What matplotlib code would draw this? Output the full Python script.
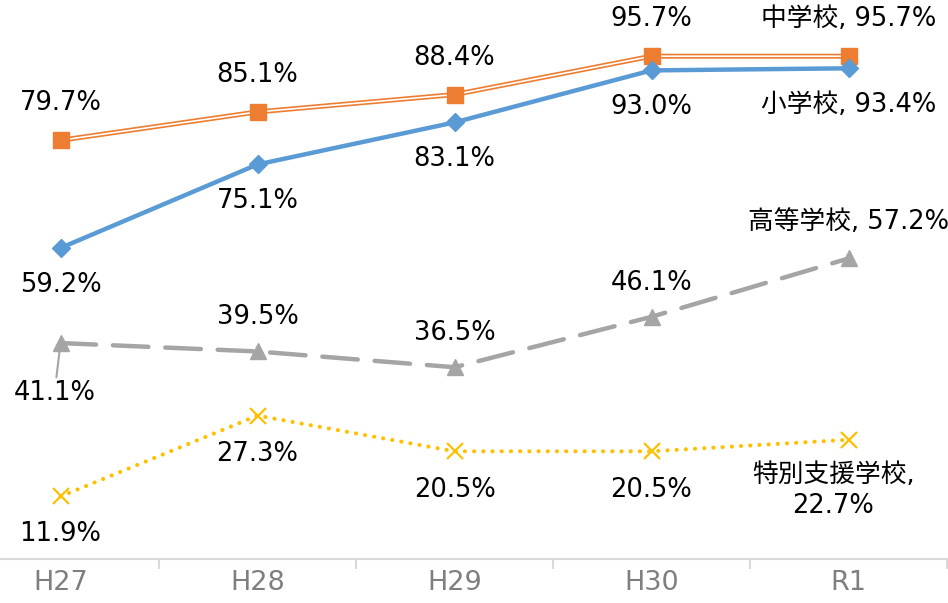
import matplotlib
matplotlib.use("Agg")
import matplotlib.pyplot as plt
import numpy as np

plt.rcParams['font.family'] = ['DejaVu Sans', 'Noto Sans CJK JP']

categories = ["H27", "H28", "H29", "H30", "R1"]
elementary = [59.2, 75.1, 83.1, 93.0, 93.4]
junior_high = [79.7, 85.1, 88.4, 95.7, 95.7]
high_school = [41.1, 39.5, 36.5, 46.1, 57.2]
special = [11.9, 27.3, 20.5, 20.5, 22.7]
names = ["小学校", "中学校", "高等学校", "特別支援学校"]

W, H = 948, 603
fig = plt.figure(figsize=(W / 100, H / 100), dpi=100)
ax_left, ax_right, ax_bottom = -38, 947, 559
ax = fig.add_axes([ax_left / W, (H - ax_bottom) / H, (ax_right - ax_left) / W, ax_bottom / H])
ax.set_xlim(-0.5, 4.5)
ax.set_ylim(0, 106.4)
ax.patch.set_alpha(0)

x = np.arange(len(categories))

blue = "#5b9bd5"
orange = "#ed7d31"
gray = "#a5a5a5"
yellow = "#ffc000"

# 中学校 (double line)
ax.plot(x, junior_high, color=orange, lw=3.6, zorder=3, solid_capstyle='butt')
ax.plot(x, junior_high, color="white", lw=1.2, zorder=3.1)
ax.plot(x, junior_high, ls='none', marker='s', ms=12, color=orange, zorder=3.2)

# 小学校
ax.plot(x, elementary, color=blue, lw=3.2, marker='D', ms=9.5, zorder=4,
        solid_joinstyle='round')

# 高等学校
ax.plot(x, high_school, color=gray, lw=3.2, dashes=(8, 3.8), dash_capstyle='round',
        marker='^', ms=12, zorder=2)

# 特別支援学校
ax.plot(x, special, color=yellow, lw=3.0, dashes=(0.01, 2.2), dash_capstyle='round',
        zorder=2)
ax.plot(x, special, ls='none', marker='x', ms=12, mew=1.6, color=yellow, zorder=2.1)

fs = 18.5
def lab(xi, yi, text, dx, dy, **kw):
    ax.annotate(text, (xi, yi), xytext=(dx, dy), textcoords='offset pixels',
                ha='center', va='center', fontsize=fs, color='black', zorder=6, **kw)

last = len(categories) - 1
for i, v in enumerate(junior_high):
    t = f"{v:.1f}%" if i < last else f"{names[1]}, {v:.1f}%"
    lab(i, v, t, 0, 37)
for i, v in enumerate(elementary):
    t = f"{v:.1f}%" if i < last else f"{names[0]}, {v:.1f}%"
    lab(i, v, t, 0, -37)
for i, v in enumerate(high_school):
    if i == 0:
        ax.annotate(f"{v:.1f}%", (i, v), xytext=(-6, -50), textcoords='offset pixels',
                    ha='center', va='center', fontsize=fs, zorder=6,
                    arrowprops=dict(arrowstyle='-', color=gray, lw=1.5,
                                    shrinkA=0, shrinkB=6))
    elif i < last:
        lab(i, v, f"{v:.1f}%", 0, 34)
    else:
        lab(i, v, f"{names[2]}, {v:.1f}%", 0, 36)
for i, v in enumerate(special):
    if i < last:
        dy = -38 if i < 2 else -39
        lab(i, v, f"{v:.1f}%", 0, dy)
    else:
        lab(i, v, f"{names[3]},\n{v:.1f}%", -15, -51, linespacing=1.25)

# axes styling
for s in ['top', 'left', 'right']:
    ax.spines[s].set_visible(False)
ax.spines['bottom'].set_color('#d9d9d9')
ax.spines['bottom'].set_linewidth(1.5)
ax.set_yticks([])
ax.set_xticks(x)
ax.set_xticklabels(categories, fontsize=19.5, color='#7f7f7f')
ax.tick_params(axis='x', which='major', length=0, pad=8)
ax.set_xticks(np.arange(-0.5, 4.6, 1.0), minor=True)
ax.tick_params(axis='x', which='minor', length=7, width=1.5, color='#d9d9d9', direction='out')

fig.savefig("out.png", dpi=100)
